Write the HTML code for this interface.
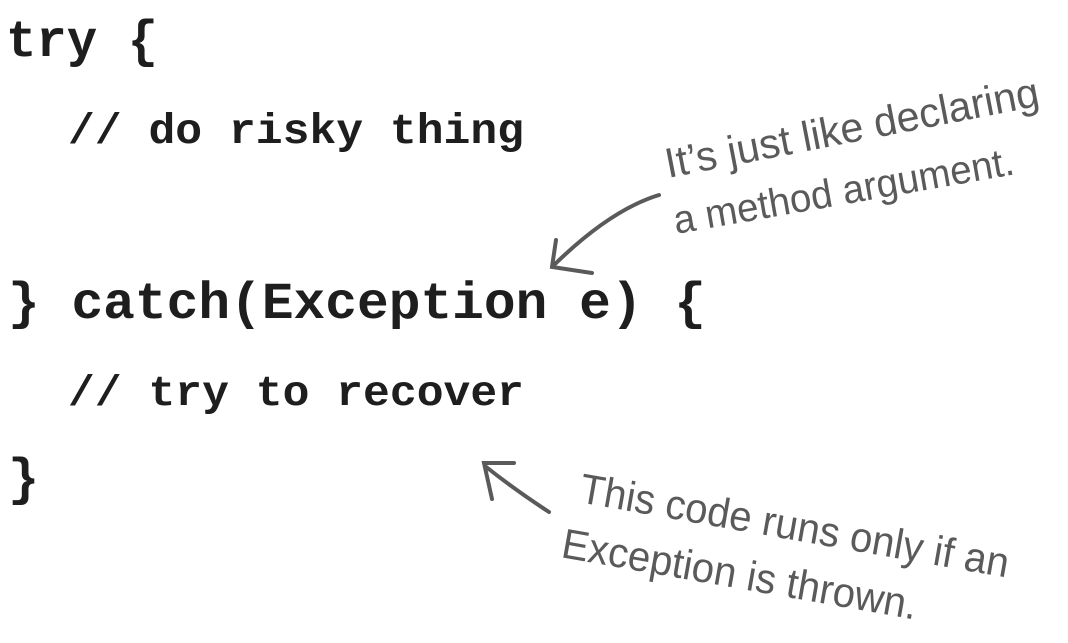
<!DOCTYPE html>
<html><head><meta charset="utf-8"><style>
html,body{margin:0;padding:0;background:#fff;}
svg{display:block;}
.c{font-family:"Liberation Mono",monospace;font-weight:bold;fill:#1e1e1e;}
.h{font-family:"Liberation Sans",sans-serif;fill:#5a5a5a;}
</style></head><body>
<svg width="1068" height="643" viewBox="0 0 1068 643">
<text class="c" x="6" y="56" font-size="52" textLength="152" lengthAdjust="spacingAndGlyphs">try {</text>
<text class="c" x="68" y="143" font-size="43" textLength="456" lengthAdjust="spacingAndGlyphs">// do risky thing</text>
<text class="c" x="8" y="318" font-size="52" textLength="698" lengthAdjust="spacingAndGlyphs">} catch(Exception e) {</text>
<text class="c" x="68" y="405" font-size="43" textLength="456" lengthAdjust="spacingAndGlyphs">// try to recover</text>
<text class="c" x="8" y="494" font-size="52">}</text>

<text class="h" font-size="42" transform="translate(668,178) rotate(-11)" textLength="380" lengthAdjust="spacingAndGlyphs">It’s just like declaring</text>
<text class="h" font-size="40" transform="translate(676,234) rotate(-10)" textLength="345" lengthAdjust="spacingAndGlyphs">a method argument.</text>
<text class="h" font-size="42" transform="translate(578,502) rotate(10)" textLength="435" lengthAdjust="spacingAndGlyphs">This code runs only if an</text>
<text class="h" font-size="42" transform="translate(560,557) rotate(10)" textLength="360" lengthAdjust="spacingAndGlyphs">Exception is thrown.</text>

<g fill="none" stroke="#5a5a5a" stroke-width="4" stroke-linecap="round">
<path d="M659 195 Q610 210 553 266"/>
<path d="M556 240 L552 267 L592 273"/>
<path d="M549 512 Q515 490 485 466"/>
<path d="M514 463 L484 463 L492 499"/>
</g>
</svg>
</body></html>
